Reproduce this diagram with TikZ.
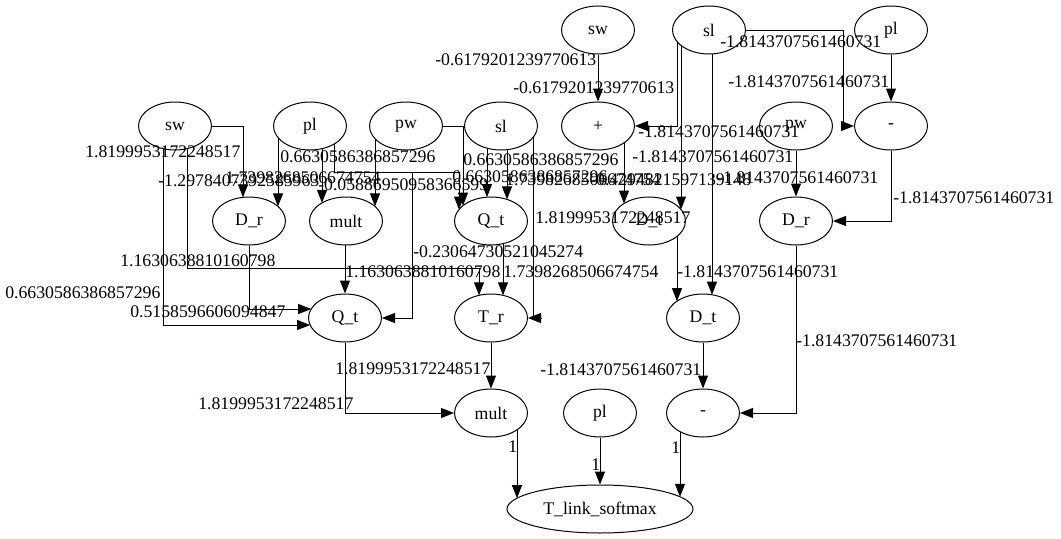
\documentclass[tikz,border=0pt]{standalone}
\usepackage{fontspec}
\setmainfont{Liberation Serif}
\usetikzlibrary{arrows.meta,calc,backgrounds,shapes.geometric}
\begin{document}
\begin{tikzpicture}[x=0.75pt,y=-0.75pt,
  every node/.style={font=\fontsize{13.3pt}{15pt}\selectfont},
  op/.style={draw,ellipse,line width=0.75pt,fill=white,minimum width=54.75pt,minimum height=36pt,inner sep=0pt},
  wide/.style={op,minimum width=139.5pt},
  lbl/.style={anchor=west,inner sep=0pt},
  link/.style={line width=0.75pt,-{Triangle[length=9.75pt,width=7.5pt]}}
]
\useasboundingbox (0,0) rectangle (1061,539);

% operand and operator nodes
\node[op] (sw2) at (598,30) {sw};
\node[op] (sl2) at (709,30) {sl};
\node[op] (pl2) at (891,30) {pl};

\node[op] (sw1) at (175,126) {sw};
\node[op] (pl1) at (310,126) {pl};
\node[op] (pw1) at (406,126) {pw};
\node[op] (sl1) at (501,126) {sl};
\node[op] (plus) at (598,126) {+};
\node[op] (pw2) at (796,126) {pw};
\node[op] (minus1) at (891,126) {-};

\node[op] (Dr1) at (249,221) {D\_r};
\node[op] (mult1) at (346,221) {mult};
\node[op] (Qt1) at (491,221) {Q\_t};
\node[op] (Dt1) at (649,221) {D\_t};
\node[op] (Dr2) at (796,221) {D\_r};

\node[op] (Qt2) at (345,318) {Q\_t};
\node[op] (Tr) at (491,318) {T\_r};
\node[op] (Dt2) at (703,318) {D\_t};

\node[op] (mult2) at (491,413) {mult};
\node[op] (pl3) at (600,413) {pl};
\node[op] (minus2) at (703,413) {-};

\node[wide] (Tl) at (600,509) {T\_link\_softmax};

% orthogonal connectors, kept behind the nodes
\begin{scope}[on background layer]
\draw[link] (sw2) -- (plus.north);
\draw[link] ($(sl2)+(-32,0)$) |- (plus.east);
\draw[link] ($(sl2)+(-28,0)$) -- ($(Dt1)+(32,-11.5)$);
\draw[link] ($(sl2)+(3,0)$) -- ($(Dt2)+(9,-23.3)$);
\draw[link] (sl2) -| ($(minus1)+(-48,0)$) -- (minus1.west);
\draw[link] (pl2) -- (minus1.north);
\draw[link] (minus1) |- (Dr2.east);
\draw[link] (pw2) -- (Dr2.north);
\draw[link] ($(plus)+(26,0)$) -- ($(Dt1)+(-25,-17.5)$);
\draw[link] ($(Dt1)+(28,0)$) -- ($(Dt2)+(-26,-16.8)$);
\draw[link] (Dt2) -- (minus2.north);
\draw[link] (Dr2) |- (minus2.east);
\draw[link] ($(minus2)+(-23,0)$) -- ($(Tl)+(80,-12.2)$);
\draw[link] (pl3) -- (Tl.north);
\draw[link] ($(mult2)+(26,0)$) -- ($(Tl)+(-83,-10.8)$);
\draw[link] (Tr) -- (mult2.north);
\draw[link] (Qt2) |- (mult2.west);

\draw[link] (sw1) -| ($(Dr1)+(-6,-23.7)$);
\draw[link] ($(sw1)+(-12,0)$) |- ($(Qt2)+(-34.9,7)$);
\draw[link] ($(sw1)+(12,0)$) |- ($(Tr)+(-12,-50)$) -- ($(Tr)+(-12,-22.7)$);
\draw[link] (Dr1) |- ($(Qt2)+(-33.8,-9)$);
\draw[link] ($(mult1)+(-1,0)$) -- (Qt2.north);
\draw[link] ($(pl1)+(24,0)$) |- ($(Qt2)+(67,-146)$) -- ($(Qt2)+(67,0)$) -- (Qt2.east);
\draw[link] ($(pl1)+(24,0)$) |- ($(Qt1)+(-32,-49)$) -- ($(Qt1)+(-32,-11.5)$);
\draw[link] (pw1) -| ($(Qt1)+(-28,-15.4)$);
\draw[link] ($(pw1)+(-31,0)$) -- ($(mult1)+(29,-14.6)$);
\draw[link] ($(pl1)+(12,0)$) -- ($(mult1)+(-24,-18.1)$);
\draw[link] ($(pl1)+(-32,0)$) -- ($(Dr1)+(29,-14.6)$);
\draw[link] ($(sl1)+(-14,0)$) -- ($(Qt1)+(-4,-23.9)$);
\draw[link] ($(sl1)+(6,0)$) -- ($(Qt1)+(16,-21.6)$);
\draw[link] ($(sl1)+(32,0)$) |- ($(Tr)+(49.5,0)$) -- (Tr.east);
\draw[link] ($(Qt1)+(12,0)$) -- ($(Tr)+(12,-22.7)$);
\end{scope}

% edge weights
\node[lbl] (w1) at (435,60) {-0.6179201239770613};
\node[lbl] (w2) at (513,88) {-0.6179201239770613};
\node[lbl] (w3) at (720,42) {-1.8143707561460731};
\node[lbl] (w4) at (728,82) {-1.8143707561460731};
\node[lbl] (w5) at (638,132) {-1.8143707561460731};
\node[lbl] (w6) at (632,157) {-1.8143707561460731};
\node[lbl] (w7) at (893,198) {-1.8143707561460731};

\node[lbl] (w8) at (85,152) {1.8199953172248517};
\node[lbl] (w9) at (158,181) {-1.2978407392585963};
\node[lbl] (w10) at (225,178) {1.7398268506674754};
\node[lbl] (w11) at (280,157) {0.6630586386857296};
\node[lbl] (w12) at (318,185) {-0.05886950958366599};
\node[lbl] (w13) at (463,160) {0.6630586386857296};
\node[lbl] (w14) at (452,177) {0.6630586386857296};
\node[lbl] (w15) at (505,180) {1.7398268506674754};
\node[lbl] (w16) at (590,180) {-0.4294821597139148};
\node[lbl] (w17) at (717,178) {-1.8143707561460731};
\node[lbl] (w18) at (535,218) {1.8199953172248517};

\node[lbl] (w19) at (413,252) {-0.23064730521045274};
\node[lbl] (w20) at (120,261) {1.1630638810160798};
\node[lbl] (w21) at (345,272) {1.1630638810160798};
\node[lbl] (w22) at (503,272) {1.7398268506674754};
\node[lbl] (w23) at (677,272) {-1.8143707561460731};
\node[lbl] (w24) at (5,293) {0.6630586386857296};
\node[lbl] (w25) at (130,312) {0.5158596606094847};
\node[lbl] (w26) at (796,341) {-1.8143707561460731};

\node[lbl] (w27) at (335,369) {1.8199953172248517};
\node[lbl] (w28) at (540,370) {-1.8143707561460731};
\node[lbl] (w29) at (198,404) {1.8199953172248517};

\node[lbl] (w30) at (508,447) {1};
\node[lbl] (w31) at (591,465) {1};
\node[lbl] (w32) at (671,448) {1};
\end{tikzpicture}
\end{document}
